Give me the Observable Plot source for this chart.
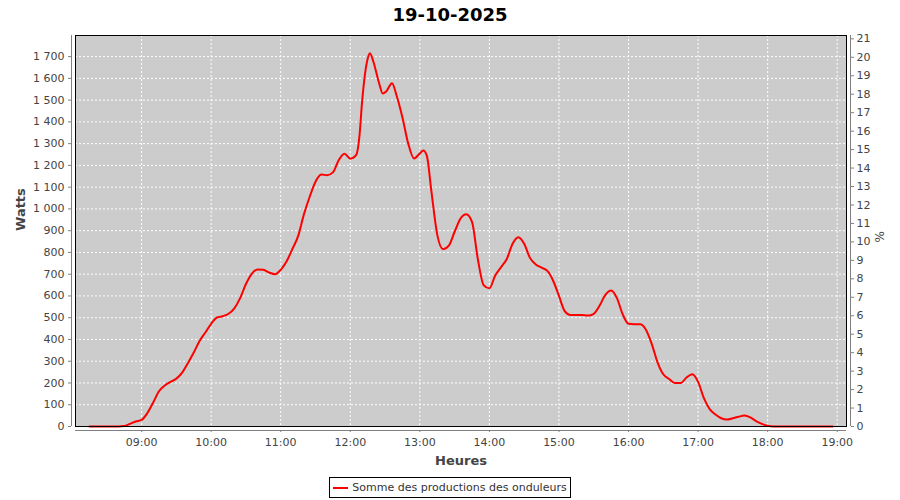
<!DOCTYPE html>
<html><head><meta charset="utf-8">
<script src="https://cdn.jsdelivr.net/npm/d3@7"></script>
<script src="https://cdn.jsdelivr.net/npm/@observablehq/plot@0.6"></script>
<style>
body{margin:0;background:#fff;font-family:"DejaVu Sans",sans-serif;}
#title{height:30px;line-height:30px;text-align:center;font-weight:bold;font-size:18px;color:#000;}
#legend{display:flex;justify-content:center;margin-top:7px;}
#legend .box{border:1px solid #000;height:19px;display:flex;align-items:center;padding:0 3px 0 3px;font-size:11px;color:#333;}
#legend .sw{width:15px;height:2px;background:#ff0000;margin-right:4px;}
</style></head><body>
<div id="title">19-10-2025</div>
<div id="chart"></div>
<div id="legend"><div class="box"><span class="sw"></span><span id="legtext"></span></div></div>
<script>
const chartTitle = "19-10-2025";
const seriesName = "Somme des productions des onduleurs";
const yLabel = "Watts";
const xLabel = "Heures";
const y2Label = "%";

const times = ["08:15","08:20","08:25","08:30","08:35","08:40","08:45","08:50","08:55",
"09:00","09:05","09:10","09:15","09:20","09:25","09:30","09:35","09:40","09:45","09:50","09:55",
"10:00","10:05","10:10","10:15","10:20","10:25","10:30","10:35","10:40","10:45","10:50","10:55",
"11:00","11:05","11:10","11:15","11:20","11:25","11:30","11:35","11:40","11:45","11:50","11:55",
"12:00","12:05","12:08","12:10","12:12","12:15","12:17","12:20","12:25","12:28","12:31","12:36","12:40","12:45","12:50","12:55",
"13:00","13:03","13:06","13:10","13:15","13:20","13:25","13:30","13:35","13:40","13:45","13:50","13:55",
"14:00","14:05","14:10","14:15","14:20","14:25","14:30","14:35","14:40","14:45","14:50","14:55",
"15:00","15:05","15:10","15:15","15:20","15:25","15:30","15:35","15:40","15:45","15:50","15:55",
"16:00","16:05","16:10","16:15","16:20","16:25","16:30","16:35","16:40","16:45","16:50","16:55",
"17:00","17:05","17:10","17:15","17:20","17:25","17:30","17:35","17:40","17:45","17:50","17:55",
"18:00","18:05","18:10","18:15","18:20","18:25","18:30","18:35","18:40","18:45","18:50","18:56"];
const watts = [0,0,0,0,0,0,2,12,23,
30,62,110,162,188,205,220,248,292,340,393,432,
472,501,507,518,543,590,655,702,722,720,708,700,
720,758,815,875,975,1056,1125,1158,1155,1168,1224,1254,
1231,1247,1340,1480,1590,1690,1715,1675,1575,1530,1540,1578,1520,1420,1300,1232,
1255,1268,1245,1080,882,815,831,895,955,975,940,770,650,
635,694,732,770,840,870,840,775,745,730,715,670,
600,530,512,513,512,510,518,555,605,625,590,515,
472,470,470,445,380,295,240,218,200,200,225,240,
205,130,80,55,38,32,38,45,50,42,25,12,
3,0,0,0,0,0,0,0,0,0,0,0];

const hourTicks = ["09:00","10:00","11:00","12:00","13:00","14:00","15:00","16:00","17:00","18:00","19:00"];
const wattTicks = d3.range(0, 1701, 100);
const pctTicks = d3.range(0, 22, 1);
const xDomain = ["08:03","19:08"];
const yMax = 1797;
const pctMax = 21.18;

document.getElementById("title").textContent = chartTitle;
document.getElementById("legtext").textContent = seriesName;

const parse = d3.utcParse("%H:%M");
const data = times.map((t, i) => ({t: parse(t), w: watts[i]}));
const hours = hourTicks.map(parse);
const xd = xDomain.map(parse);
const wPerPct = yMax / pctMax;
const fmtW = d => d3.format(",")(d).replace(/,/g, " ");
const gray = "#808080";
const txt = "#444444";

const chart = Plot.plot({
  width: 900, height: 440,
  marginTop: 5, marginBottom: 44, marginLeft: 75, marginRight: 54,
  style: {fontFamily: "DejaVu Sans", fontSize: "11px", background: "#fff", overflow: "visible"},
  x: {type: "utc", domain: xd},
  y: {domain: [0, yMax]},
  marks: [
    Plot.frame({fill: "#cccccc"}),
    Plot.gridY(wattTicks, {stroke: "#fff", strokeOpacity: 1, strokeDasharray: "2,2"}),
    Plot.gridX(hours, {stroke: "#fff", strokeOpacity: 1, strokeDasharray: "2,2"}),
    Plot.lineY(data, {x: "t", y: "w", stroke: "#ff0000", strokeWidth: 2, curve: "monotone-x"}),
    Plot.frame({stroke: "#000"}),
    Plot.ruleX([xd[0]], {dx: -4, stroke: gray}),
    Plot.ruleX([xd[1]], {dx: 4, stroke: gray}),
    Plot.ruleY([0], {dy: 4, stroke: gray}),
    Plot.axisY({ticks: wattTicks, tickSize: 3, tickFormat: () => "", dx: -4, color: gray, label: null}),
    Plot.axisY({ticks: wattTicks, tickSize: 0, tickPadding: 7, tickFormat: fmtW, dx: -4, color: txt, label: null}),
    Plot.axisY({anchor: "right", ticks: pctTicks.map(p => p * wPerPct), tickSize: 3, tickFormat: () => "", dx: 4, color: gray, label: null}),
    Plot.axisY({anchor: "right", ticks: pctTicks.map(p => p * wPerPct), tickSize: 0, tickPadding: 6, tickFormat: d => String(Math.round(d / wPerPct)), dx: 4, color: txt, label: null}),
    Plot.axisX({ticks: hours, tickSize: 2, tickFormat: () => "", dy: 4, color: gray, label: null}),
    Plot.axisX({ticks: hours, tickSize: 0, tickPadding: 8, tickFormat: d3.utcFormat("%H:%M"), dy: 4, color: txt, label: null}),
    Plot.text([yLabel], {text: d => d, frameAnchor: "left", rotate: -90, dx: -55, fontSize: 13, fontWeight: "bold", fill: txt, lineAnchor: "middle"}),
    Plot.text([xLabel], {text: d => d, frameAnchor: "bottom", dy: 34, fontSize: 13, fontWeight: "bold", fill: txt, lineAnchor: "middle"}),
    Plot.text([y2Label], {text: d => d, frameAnchor: "right", rotate: -90, dx: 34, fontSize: 12, fill: txt, lineAnchor: "middle"})
  ]
});
document.getElementById("chart").appendChild(chart);
</script>
</body></html>
